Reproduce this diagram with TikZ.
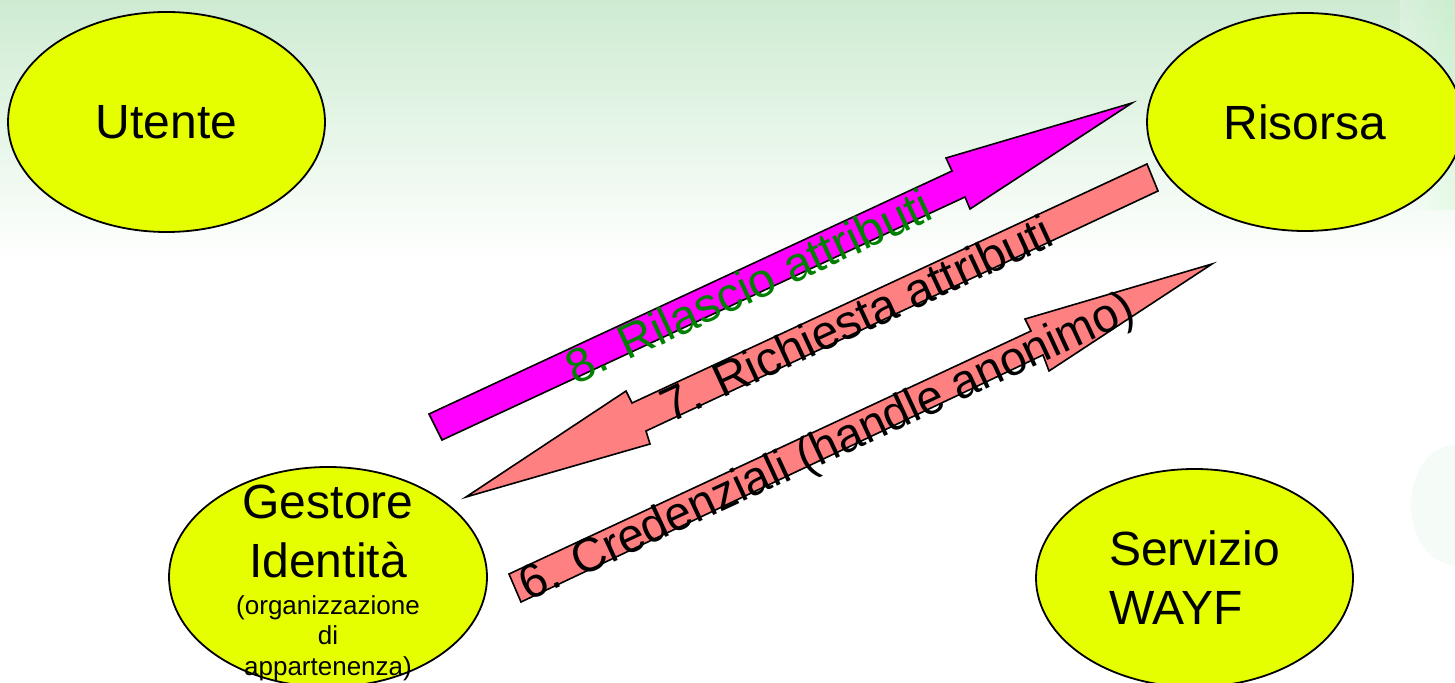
\documentclass[tikz,border=0pt]{standalone}
\usepackage{fontspec}
\setmainfont{Liberation Sans}
\usetikzlibrary{shapes.geometric}
\definecolor{ellfill}{RGB}{230,255,0}
\definecolor{magarrow}{RGB}{255,0,255}
\definecolor{salmonarrow}{RGB}{255,128,128}
\definecolor{lblgreen}{RGB}{0,128,0}
\definecolor{bggreen}{RGB}{206,235,210}
\definecolor{bgmid}{RGB}{228,245,230}
\begin{document}
\begin{tikzpicture}[x=0.5pt,y=-0.5pt,
  entity/.style={ellipse, draw=black, line width=0.9pt, fill=ellfill, inner sep=0pt,
    font=\fontsize{24}{29.5}\selectfont},
  bigtext/.style={inner sep=0pt, font=\fontsize{24}{29.5}\selectfont},
  smalltext/.style={inner sep=0pt, font=\fontsize{13}{15.5}\selectfont},
  blockarrow/.style={draw=black, line width=0.8pt, line join=miter},
  arrowlabel/.style={font=\fontsize{24}{29}\selectfont, rotate=24.9, inner sep=0pt}]
\useasboundingbox (0,0) rectangle (1455,683);
% background
\fill[white] (0,0) rectangle (1455,683);
\shade[top color=bggreen, bottom color=bgmid] (0,0) rectangle (1455,120);
\shade[top color=bgmid, bottom color=white] (0,120) rectangle (1455,260);
\shade[left color=bggreen!0!white, right color=bggreen!70!green!60!white, fill opacity=0.25]
  (1400,0) rectangle (1455,210);
\fill[bggreen, opacity=0.2] (1455,505) ellipse (22pt and 30pt);
% entities
\node[entity, minimum width=158.5pt, minimum height=110pt] (utente) at (166.5,122) {Utente};
\node[entity, minimum width=158pt, minimum height=109pt] (risorsa) at (1305,122) {Risorsa};
\node[entity, minimum width=159pt, minimum height=110pt] (gestore) at (328,577) {};
\node[entity, minimum width=158.5pt, minimum height=109pt, align=left] (wayf) at (1194.5,578) {Servizio\\WAYF};
\node[bigtext, anchor=base] (g1) at (328,518) {Gestore};
\node[bigtext, anchor=base] (g2) at (328,577) {Identità};
\node[smalltext, anchor=base] (g3) at (328,614) {(organizzazione};
\node[smalltext, anchor=base] (g4) at (328,644) {di};
\node[smalltext, anchor=base] (g5) at (328,675) {appartenenza)};
% block arrows
\draw[blockarrow, fill=magarrow] (429,414) -- (952,171) -- (946,158) -- (1132,103)
  -- (970,209) -- (965,197) -- (442,440) -- cycle;
\draw[blockarrow, fill=salmonarrow] (1147,164) -- (632,403) -- (626,391) -- (466,497)
  -- (650,444) -- (646,431) -- (1158,191) -- cycle;
\draw[blockarrow, fill=salmonarrow] (509,574) -- (1031,331) -- (1025,319) -- (1212,264)
  -- (1049,371) -- (1043,355) -- (521,602) -- cycle;
% labels
\node[arrowlabel, text=lblgreen] (l8) at (748,286) {8. Rilascio attributi};
\node[arrowlabel] (l7) at (856,318) {7. Richiesta attributi};
\node[arrowlabel, xscale=0.98] (l6) at (828,449) {6. Credenziali (handle anonimo)};
\end{tikzpicture}
\end{document}
